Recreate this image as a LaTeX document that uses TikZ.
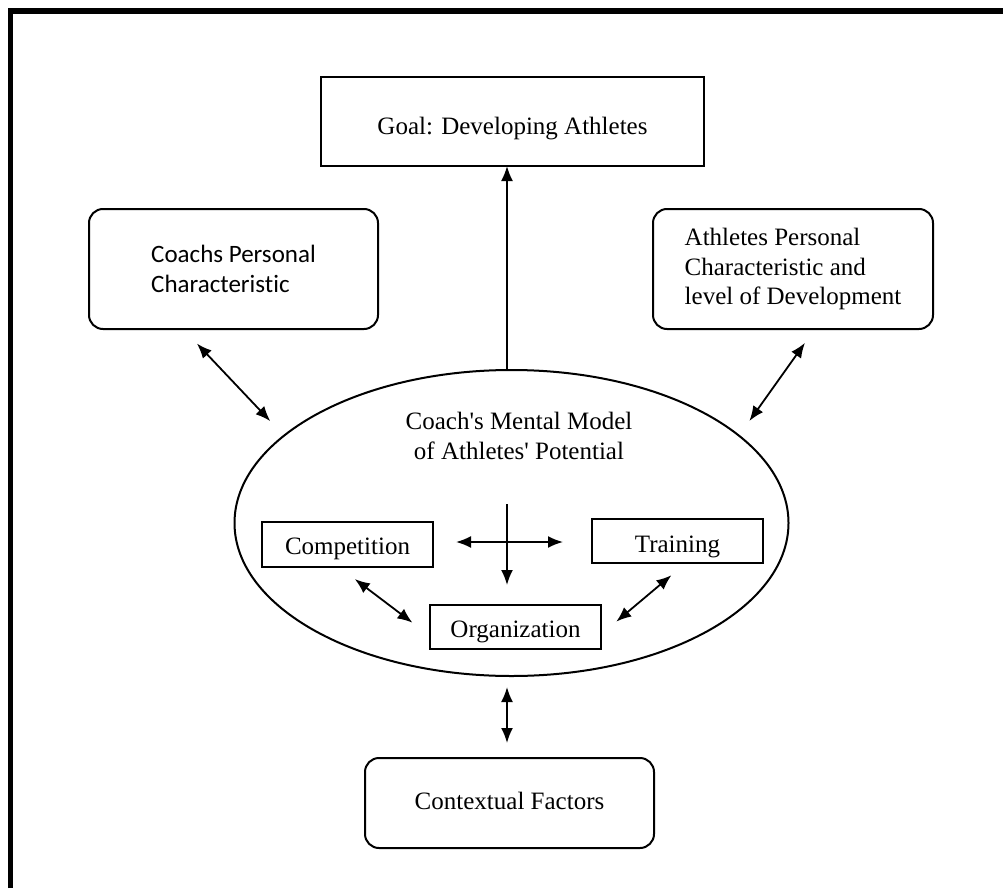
\documentclass[tikz,border=0pt]{standalone}
\usepackage{fontspec}
\setmainfont{Liberation Serif}
\newfontfamily\coachfont[Ligatures=NoCommon]{Carlito}
\usetikzlibrary{arrows.meta,shapes.geometric}
\tikzset{
  base/.style={font=\fontsize{25}{29.5}\selectfont, align=center, inner sep=0pt, outer sep=0mm},
  box/.style={rectangle, draw=black, line width=2pt, base},
  rbox/.style={rectangle, draw=black, line width=2pt, rounded corners=14pt, base},
  oval/.style={ellipse, draw=black, line width=2pt, base},
  arrow/.style={-{Latex[length=15pt,width=12pt]}, line width=1.8pt, color=black},
  biarrow/.style={{Latex[length=15pt,width=12pt]}-{Latex[length=15pt,width=12pt]}, line width=1.8pt, shorten <=20pt, shorten >=20pt}
}
\begin{document}
\begin{tikzpicture}[x=1pt, y=-1pt]
    \useasboundingbox (0,0) rectangle (1003,888);
    % frame, only top and left edge are visible
    \draw[line width=5.5pt] (10.5,888) -- (10.5,11) -- (1003,11);

    \node[box, minimum width=383pt, text height=58pt, text depth=31pt] (goal) at (512.5,121.5) {Goal: Developing Athletes};
    \node[rbox, minimum width=289pt, minimum height=120pt, align=left, font=\coachfont\fontsize{25}{30}\selectfont] (coach) at (233.5,269) {Coachs Personal\\Characteristic};
    \node[rbox, minimum width=280pt, minimum height=120pt, align=left] (athletes) at (793,269) {Athletes Personal\\Characteristic and\\level of Development};

    \node[oval, minimum width=554pt, minimum height=306pt] (model) at (511.5,523) {};
    \node[base] (modeltitle) at (519,436) {Coach\textquotesingle s Mental Model\\of Athletes\textquotesingle\ Potential};

    \node[box, minimum width=171pt, text height=32pt, text depth=13pt] (competition) at (347.5,544.5) {Competition};
    \node[box, minimum width=171pt, text height=33pt, text depth=11pt] (training) at (677.5,541) {Training};
    \node[box, minimum width=171pt, text height=32pt, text depth=12pt] (organization) at (515.5,627) {Organization};
    \node[rbox, minimum width=289pt, text height=51pt, text depth=39pt] (context) at (509.5,803) {Contextual Factors};

    \coordinate (crosstop) at (507,504);
    \coordinate (hub) at (507,542);

    \draw[arrow] (crosstop |- model.north) -- (crosstop |- goal.south);
    \draw[biarrow] (coach.-130) -- (model.159);
    \draw[biarrow, shorten <=17pt, shorten >=18pt] (athletes.-70) -- (model.21);
    \draw[arrow, shorten >=20pt] (crosstop) -- (crosstop |- organization.north);
    \draw[biarrow, shorten <=23pt, shorten >=29pt] (hub -| competition.east) -- (hub -| training.west);
    \draw[biarrow, shorten >=22pt] (competition.-111) -- (organization.186);
    \draw[biarrow, shorten <=19pt] (training.-69) -- (organization.-5);
    \draw[biarrow, shorten <=11pt, shorten >=15pt] (crosstop |- model.south) -- (crosstop |- context.north);
  \end{tikzpicture}
\end{document}
